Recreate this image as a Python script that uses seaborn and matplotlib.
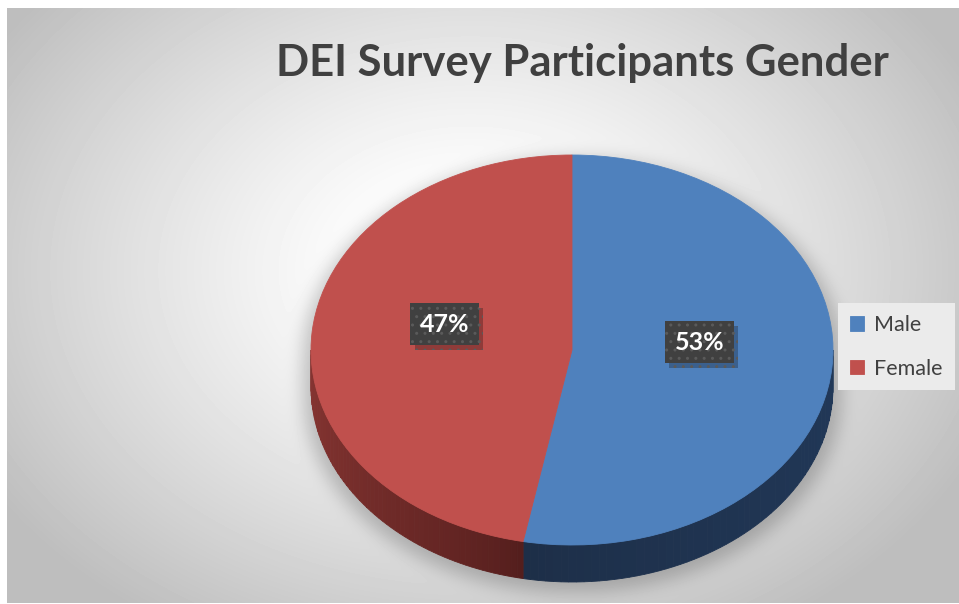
import numpy as np
import matplotlib
matplotlib.use('Agg')
import matplotlib.pyplot as plt
import matplotlib.patheffects as pe
from matplotlib.patches import Polygon
import seaborn as sns

# ---- data ----
categories = ['Male', 'Female']
shares = [53, 47]
top_colors = ['#4F81BD', '#C0504D']
side_colors = [('#1D2E47', '#213858'), ('#521D1C', '#873532')]  # (near seam, far end)
title = 'DEI Survey Participants Gender'

sns.set_theme(style='white')
plt.rcParams['font.family'] = ['Lato', 'DejaVu Sans']

W, H = 959, 604
fig = plt.figure(figsize=(W / 100, H / 100), dpi=100)

# ---- geometry of the pie (pixels) ----
cx, cy = 572, 350
a_px, b_px = 261, 195
depth_px = 37

# ---- background gradient + soft shadow ----
bg = fig.add_axes([0, 0, 1, 1])
bg.axis('off')
yy, xx = np.mgrid[0:H, 0:W].astype(float)
r = np.sqrt(((xx - 470) / 560) ** 2 + ((yy - 270) / 420) ** 2)
t = np.clip((r - 0.15) / 0.85, 0, 1) ** 1.2
val = (255 - 65 * t) / 255.0

s = 6
yc = np.clip(yy, cy + s, cy + depth_px + s)
mask = (((xx - cx) / (a_px + 8)) ** 2 + ((yy - yc) / (b_px + 4)) ** 2 <= 1).astype(float)

def box_blur(img, rad):
    k = 2 * rad + 1
    p = np.pad(img, ((0, 0), (rad + 1, rad)), mode='edge')
    c = np.cumsum(p, axis=1)
    img = (c[:, k:] - c[:, :-k]) / k
    p = np.pad(img, ((rad + 1, rad), (0, 0)), mode='edge')
    c = np.cumsum(p, axis=0)
    return (c[k:, :] - c[:-k, :]) / k

sh = mask
for _ in range(3):
    sh = box_blur(sh, 8)
val = val * (1 - 0.22 * sh)
val[:8, :] = 1.0
val[:, :7] = 1.0
val[603:, :] = 1.0
bg.imshow(val, cmap='gray', vmin=0, vmax=1, extent=(0, W, H, 0),
          aspect='auto', interpolation='bilinear')
bg.set_xlim(0, W)
bg.set_ylim(H, 0)

# ---- pie axes ----
xl = (-1.1, 1.1)
yl = (-1.3, 1.1)
left_px = cx - 1.1 * a_px
width_px = 2.2 * a_px
top_px = cy - 1.1 * b_px
height_px = 2.4 * b_px
ax = fig.add_axes([left_px / W, 1 - (top_px + height_px) / H, width_px / W, height_px / H])
ax.patch.set_alpha(0)

wedges, texts, autotexts = ax.pie(
    shares, colors=top_colors, startangle=90, counterclock=False,
    autopct='%1.0f%%', pctdistance=0.49,
    wedgeprops=dict(linewidth=0.6),
    textprops=dict(color='white', fontsize=18, fontweight='bold'))
for w in wedges:
    w.set_edgecolor(w.get_facecolor())
    w.set_zorder(2)

ax.set_aspect('auto')
ax.set_xlim(xl)
ax.set_ylim(yl)
ax.axis('off')

# side walls (front half), derived from slice angles
d = depth_px / b_px
total = float(sum(shares))
cum = np.concatenate([[0], np.cumsum(shares)]) / total
seam_angle = 90 - 360 * cum[1]
for i in range(len(shares)):
    th2 = 90 - 360 * cum[i]
    th1 = 90 - 360 * cum[i + 1]
    for off in (0, -360, 360):
        lo = max(th1 + off, -180)
        hi = min(th2 + off, 0)
        if hi <= lo:
            continue
        n = 60
        edges = np.linspace(lo, hi, n + 1)
        c_seam = np.array(matplotlib.colors.to_rgb(side_colors[i][0]))
        c_far = np.array(matplotlib.colors.to_rgb(side_colors[i][1]))
        for j in range(n):
            tt = np.radians(np.linspace(edges[j], edges[j + 1], 6))
            xs = np.cos(tt)
            ys = np.sin(tt)
            poly = np.column_stack([np.concatenate([xs, xs[::-1]]),
                                    np.concatenate([ys, ys[::-1] - d])])
            mid = 0.5 * (edges[j] + edges[j + 1])
            frac = abs(mid - seam_angle) / max(abs(hi - lo), 1e-6)
            frac = np.clip(frac, 0, 1) ** 0.7
            col = c_seam + (c_far - c_seam) * frac
            ax.add_patch(Polygon(poly, closed=True, facecolor=col,
                                 edgecolor=col, linewidth=0.6, zorder=1))

# labels: dark hatched boxes with a soft shadow
for at in autotexts:
    x, y = at.get_position()
    at.set_position((x, y + 0.085))
    at.set_zorder(6)
    at.set_bbox(dict(boxstyle='square,pad=0.38', facecolor='#404040',
                     edgecolor='#5A5A5A', linewidth=0, hatch='..'))
    at.get_bbox_patch().set_path_effects(
        [pe.SimplePatchShadow(offset=(3, -3), shadow_rgbFace='black', alpha=0.25),
         pe.Normal()])

# ---- title ----
tt_ = fig.text(582 / W, 1 - 63 / H, title, ha='center', va='center',
               fontsize=32, fontweight='bold', color='#404040')
fig.canvas.draw()
wt = tt_.get_window_extent().width
tt_.set_fontsize(32 * 615 / wt)

# ---- legend ----
leg = fig.legend(wedges, categories, loc='upper left',
                 bbox_to_anchor=(838 / W, 1 - 303 / H), frameon=True,
                 fontsize=15.5, handlelength=0.68, handleheight=0.68,
                 handletextpad=0.45, labelspacing=1.1, borderpad=0.55,
                 borderaxespad=0, fancybox=False)
leg.get_frame().set_facecolor('#EBEBEB')
leg.get_frame().set_edgecolor('none')
leg.get_frame().set_alpha(1)
for txt in leg.get_texts():
    txt.set_color('#404040')

fig.savefig('out.png', dpi=100)
